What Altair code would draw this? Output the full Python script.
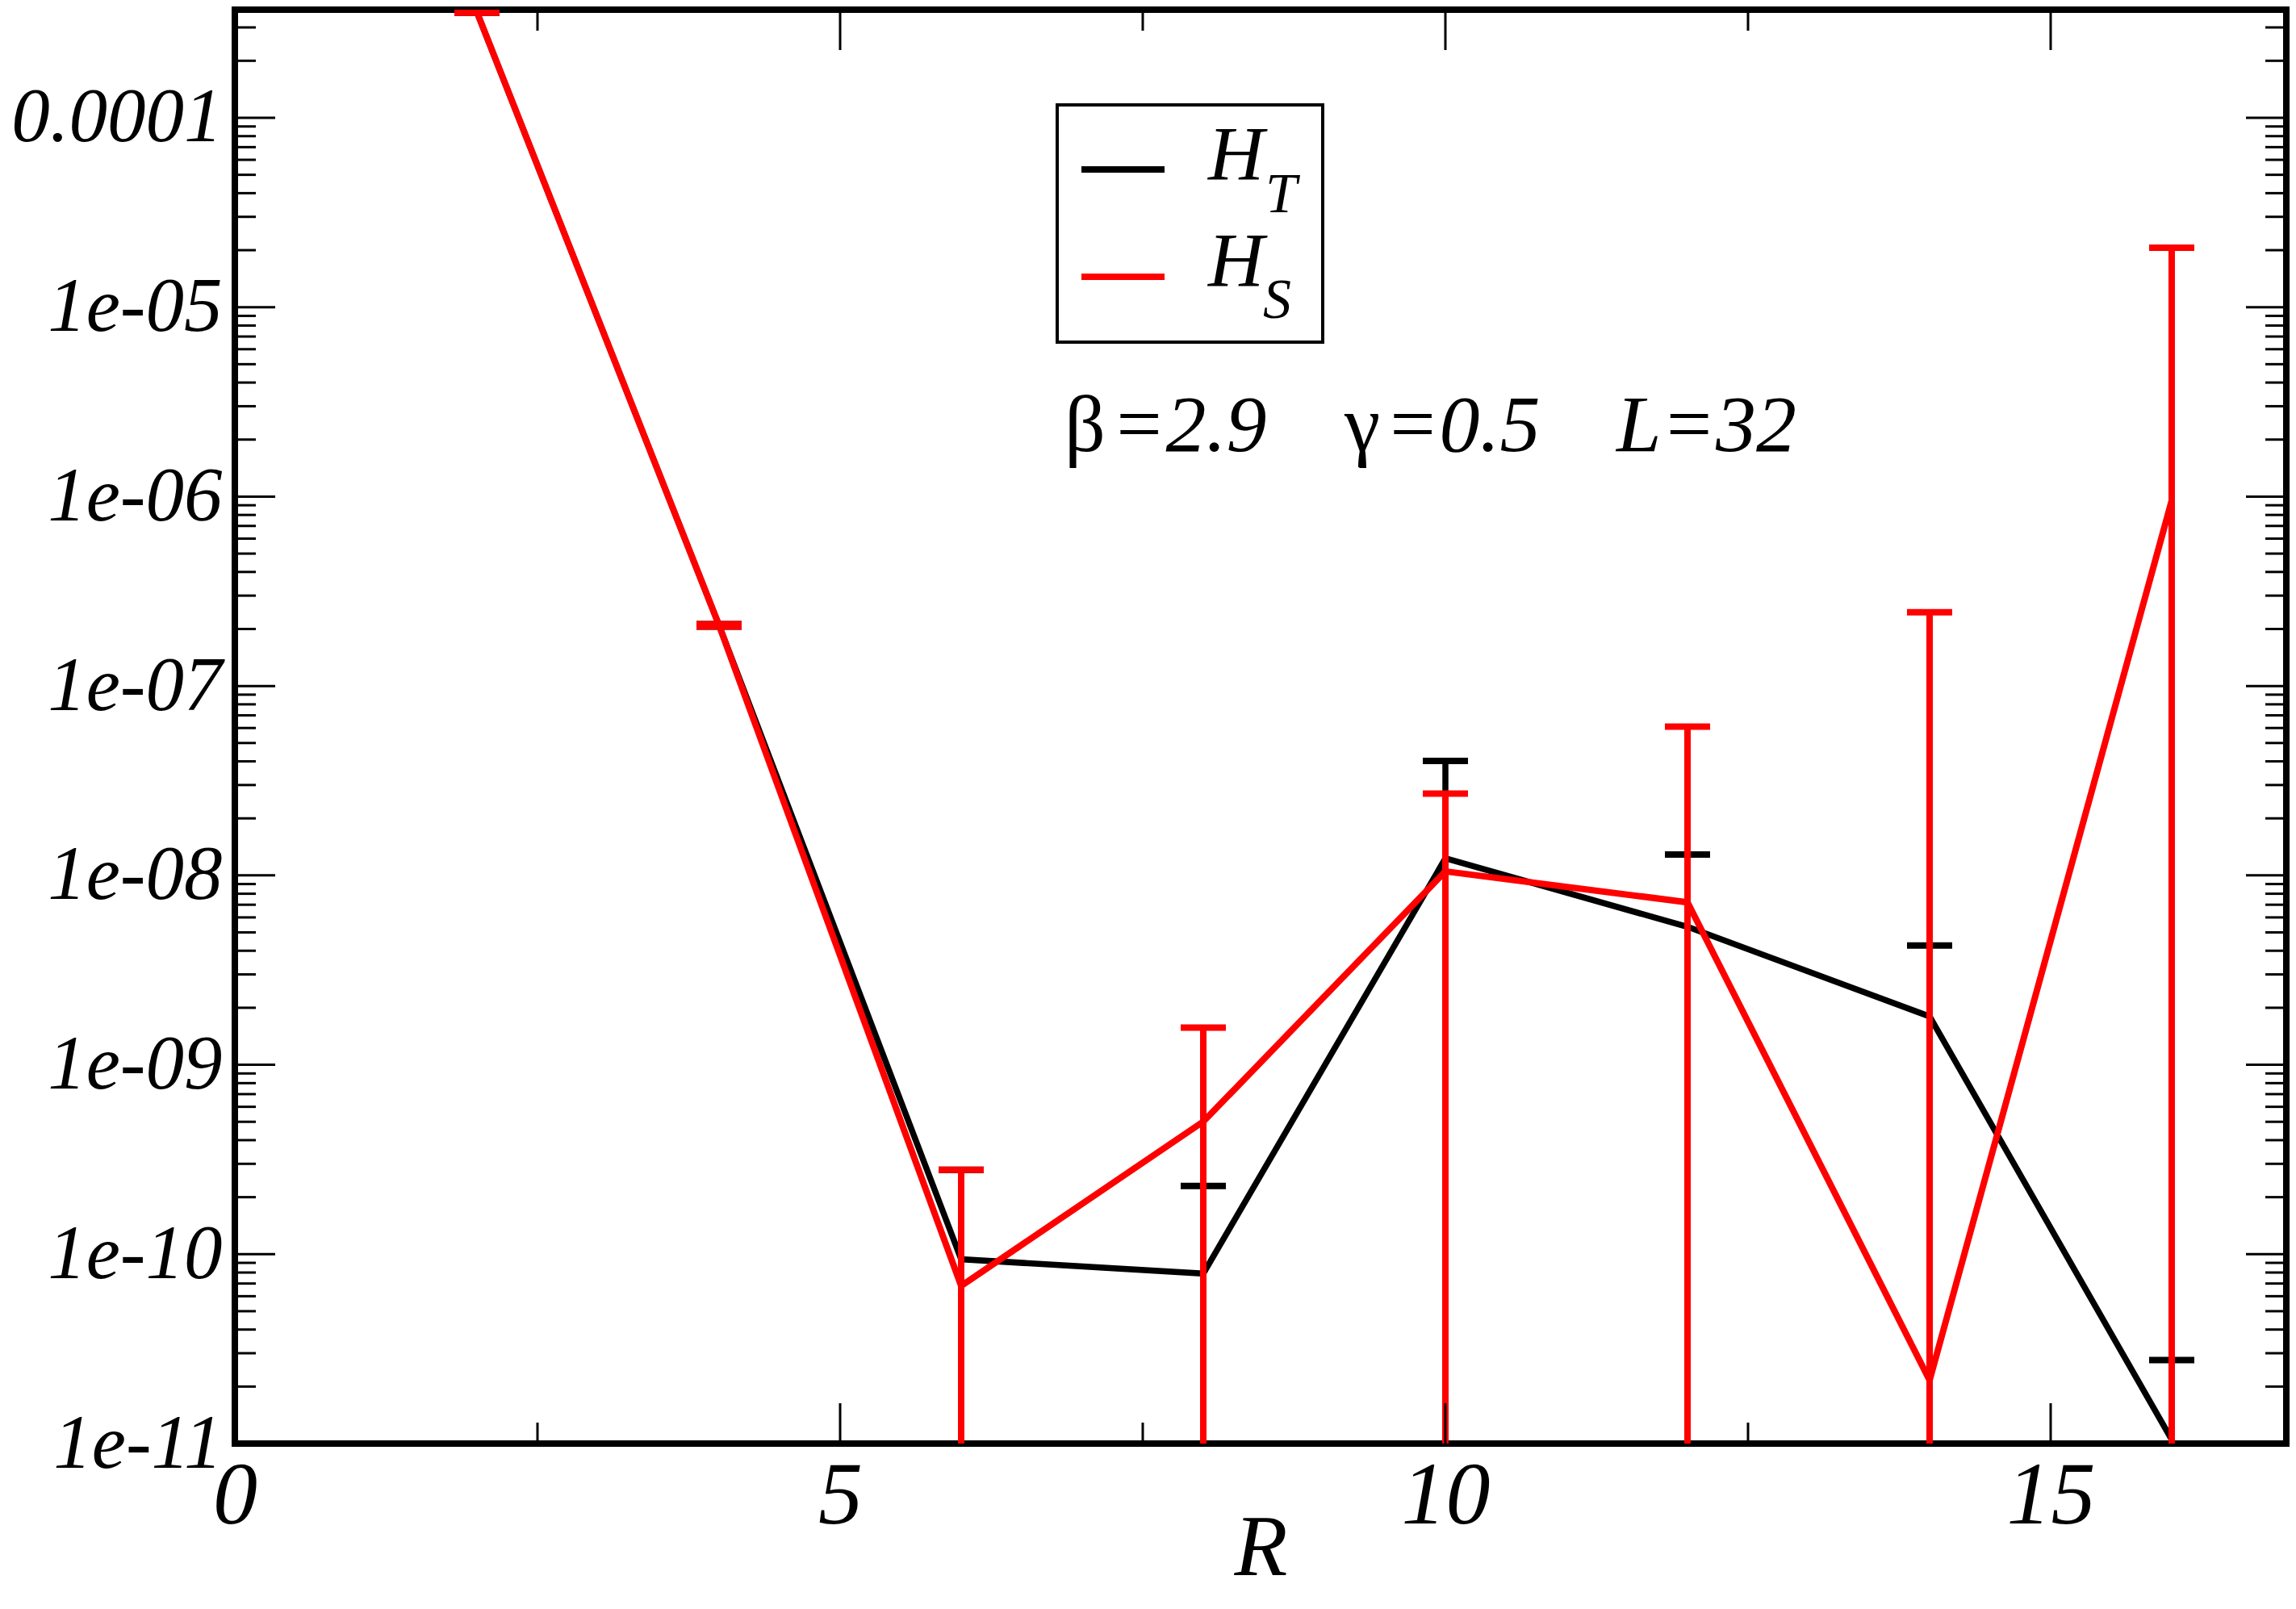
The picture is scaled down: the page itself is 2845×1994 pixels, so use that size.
import altair as alt
import pandas as pd

# ---------------- data ----------------
R = [2, 4, 6, 8, 10, 12, 14, 16]
HT = [3.61e-4, 2.09e-7, 9.4e-11, 7.9e-11, 1.23e-8, 5.35e-9, 1.80e-9, 1.05e-11]
HT_err = [2e-6, 3e-9, 1.85e-10, 1.50e-10, 2.79e-8, 7.55e-9, 2.46e-9, 1.71e-11]
HS = [3.61e-4, 2.09e-7, 6.8e-11, 5.01e-10, 1.05e-8, 7.21e-9, 2.16e-11, 9.52e-7]
HS_err = [2e-6, 3e-9, 2.11e-10, 1.07e-9, 1.65e-8, 5.38e-8, 2.45e-7, 1.965e-5]

x_major = [0, 5, 10, 15]
x_minor = [2.5, 7.5, 12.5]
y_major = [1e-11, 1e-10, 1e-09, 1e-08, 1e-07, 1e-06, 1e-05, 1e-04]
y_labels = ["1e-11", "1e-10", "1e-09", "1e-08", "1e-07", "1e-06", "1e-05", "0.0001"]
Y_MIN, Y_MAX = 1e-11, 3.722e-4
X_MIN, X_MAX = 0, 16.9467
y_minor = [m * d for d in y_major for m in range(2, 10) if m * d < Y_MAX]

legend_names = ["H", "H"]
legend_subs = ["T", "S"]

# ---------------- layout ----------------
W, H = 2542, 1777
FONT = "Liberation Serif, Times New Roman, Times, DejaVu Serif, serif"
MAJ, MIN = 50, 26

xscale = alt.Scale(domain=[X_MIN, X_MAX], nice=False, zero=False)
yscale = alt.Scale(type="log", domain=[Y_MIN, Y_MAX], nice=False)


def frame(vals, errs):
    rows = []
    for r, v, e in zip(R, vals, errs):
        lo = v - e
        rows.append(dict(R=r, v=v, hi=v + e, lo=lo if lo > 0 else Y_MIN / 10, haslo=lo > 0))
    return pd.DataFrame(rows)


ylab_expr = ""
for v, lab in zip(y_major[:-1], y_labels[:-1]):
    ylab_expr += f"datum.value < {v * 3!r} ? '{lab}' : "
ylab_expr += f"'{y_labels[-1]}'"

x_axis = alt.Axis(values=x_major, ticks=False, tickSize=0, domain=False, grid=False,
                  labelFont=FONT, labelFontSize=110, labelFontStyle="italic",
                  labelColor="black", labelBaseline="alphabetic", labelPadding=98,
                  labelFlush=False, labelOverlap=False, labelLimit=0,
                  title="R", titleFont=FONT, titleFontSize=108, titleFontStyle="italic",
                  titleFontWeight="normal", titleColor="black", titleBaseline="alphabetic",
                  titleY=162)
y_axis = alt.Axis(values=y_major, ticks=False, tickSize=0, domain=False, grid=False,
                  labelExpr=ylab_expr, labelFont=FONT, labelFontSize=95,
                  labelFontStyle="italic", labelColor="black", labelPadding=16,
                  labelBaseline="middle", labelFlush=False, labelOverlap=False,
                  labelLimit=0, title=None)


def X(field):
    return alt.X(field, scale=xscale, axis=x_axis)


def Y(field):
    return alt.Y(field, scale=yscale, axis=y_axis)


def series(df, color, lw):
    line = alt.Chart(df).mark_line(color=color, strokeWidth=lw, clip=True).encode(
        x=X("R:Q"), y=Y("v:Q"))
    bars = alt.Chart(df).mark_rule(color=color, strokeWidth=lw, clip=True).encode(
        x=X("R:Q"), y=Y("lo:Q"), y2="hi:Q")
    hicap = alt.Chart(df).mark_tick(orient="horizontal", color=color, size=56, opacity=1,
                                    thickness=8, clip=True).encode(x=X("R:Q"), y=Y("hi:Q"))
    locap = alt.Chart(df).transform_filter("datum.haslo").mark_tick(
        orient="horizontal", color=color, size=56, thickness=8, opacity=1, clip=True).encode(
        x=X("R:Q"), y=Y("lo:Q"))
    return [line, bars, hicap, locap]


black = series(frame(HT, HT_err), "black", 7.5)
red = series(frame(HS, HS_err), "#ff0000", 8)


def yticks(vals, length):
    d = pd.DataFrame({"v": vals})
    left = alt.Chart(d).mark_rule(color="black", strokeWidth=3).encode(
        y=Y("v:Q"), x=alt.value(0), x2=alt.value(length))
    right = alt.Chart(d).mark_rule(color="black", strokeWidth=3).encode(
        y=Y("v:Q"), x=alt.value(W), x2=alt.value(W - length))
    return [left, right]


def xticks(vals, length):
    d = pd.DataFrame({"v": vals})
    bottom = alt.Chart(d).mark_rule(color="black", strokeWidth=3).encode(
        x=X("v:Q"), y=alt.value(H), y2=alt.value(H - length))
    top = alt.Chart(d).mark_rule(color="black", strokeWidth=3).encode(
        x=X("v:Q"), y=alt.value(0), y2=alt.value(length))
    return [bottom, top]


ticks = yticks(y_major, MAJ) + yticks(y_minor, MIN) + xticks(x_major, MAJ) + xticks(x_minor, MIN)


def txt(s, x, y, size, italic=True):
    return alt.Chart(pd.DataFrame({"t": [s]})).mark_text(
        font=FONT, fontSize=size, fontStyle="italic" if italic else "normal",
        align="left", baseline="alphabetic", color="black").encode(
        text="t:N", x=alt.value(x), y=alt.value(y))


annot = [
    txt("β", 1028, 547, 100, italic=False),
    txt("=2.9", 1086, 547, 100),
    txt("γ", 1375, 547, 100, italic=False),
    txt("=0.5", 1425, 547, 100),
    txt("L=32", 1712, 547, 100),
]

one = pd.DataFrame({"k": [0]})
legend_box = alt.Chart(one).mark_rect(fillOpacity=0, stroke="black", strokeWidth=4).encode(
    x=alt.value(1019), x2=alt.value(1348), y=alt.value(118), y2=alt.value(412))
leg_black = alt.Chart(one).mark_rule(color="black", strokeWidth=8).encode(
    x=alt.value(1049), x2=alt.value(1152), y=alt.value(198))
leg_red = alt.Chart(one).mark_rule(color="#ff0000", strokeWidth=8).encode(
    x=alt.value(1049), x2=alt.value(1152), y=alt.value(331))
legend = [
    legend_box, leg_black, leg_red,
    txt(legend_names[0], 1206, 211, 96), txt(legend_subs[0], 1277, 251, 70),
    txt(legend_names[1], 1206, 343, 96), txt(legend_subs[1], 1274, 382, 70),
]

chart = alt.layer(*black, *red, *ticks, *annot, *legend).properties(
    width=W, height=H,
    autosize=alt.AutoSizeParams(type="none"),
    padding={"left": 283, "top": 4, "right": 4, "bottom": 189},
    background="white",
).configure_view(stroke="black", strokeWidth=8)

chart.save("out.html", embed_options={"renderer": "svg", "actions": False})
